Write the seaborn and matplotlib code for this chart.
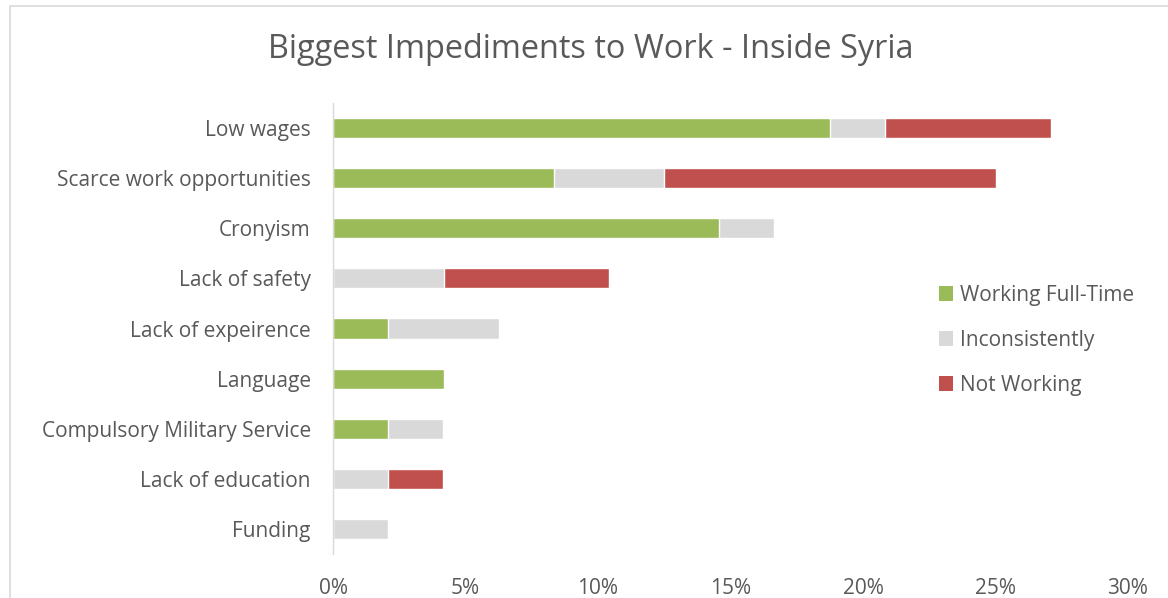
import matplotlib
matplotlib.use("Agg")
import matplotlib.pyplot as plt
from matplotlib.patches import Rectangle
from matplotlib.ticker import FuncFormatter
import pandas as pd
import seaborn as sns

categories = [
    "Low wages",
    "Scarce work opportunities",
    "Cronyism",
    "Lack of safety",
    "Lack of expeirence",
    "Language",
    "Compulsory Military Service",
    "Lack of education",
    "Funding",
]
full_time = [18.75, 8.33, 14.58, 0.0, 2.08, 4.17, 2.08, 0.0, 0.0]
inconsistently = [2.08, 4.17, 2.08, 4.17, 4.17, 0.0, 2.08, 2.08, 2.08]
not_working = [6.25, 12.50, 0.0, 6.25, 0.0, 0.0, 0.0, 2.08, 0.0]
series_names = ["Working Full-Time", "Inconsistently", "Not Working"]
series_colors = ["#9BBB59", "#D9D9D9", "#C0504D"]
x_ticks = [0, 5, 10, 15, 20, 25, 30]

df = pd.DataFrame({
    "category": categories,
    "full": full_time,
    "inc": inconsistently,
    "notw": not_working,
})
df["c1"] = df["full"]
df["c2"] = df["c1"] + df["inc"]
df["c3"] = df["c2"] + df["notw"]

sns.set_theme(style="white")
plt.rcParams["font.family"] = ["Open Sans", "DejaVu Sans"]
text_color = "#595959"

fig = plt.figure(figsize=(11.68, 5.98), dpi=100)
W, H = 1168, 598
ax = fig.add_axes([333 / W, 1 - 554 / H, (1128 - 333) / W, (554 - 103) / H])

# stacked bars: draw cumulative totals from the outermost segment inward
for col, color in zip(["c3", "c2", "c1"], series_colors[::-1]):
    sns.barplot(data=df, x=col, y="category", orient="h", color=color,
                width=0.4, saturation=1, ax=ax, order=categories)

ax.set_xlim(0, 30)
ax.set_ylim(8.5, -0.5)
ax.set_xticks(x_ticks)
ax.xaxis.set_major_formatter(FuncFormatter(lambda v, p: f"{v:.0f}%"))
ax.set_xlabel("")
ax.set_ylabel("")
ax.tick_params(axis="both", length=0, labelsize=15, colors=text_color)
ax.tick_params(axis="x", pad=17)
ax.tick_params(axis="y", pad=16)
for s in ["top", "right", "bottom"]:
    ax.spines[s].set_visible(False)
ax.spines["left"].set_color("#D9D9D9")
ax.spines["left"].set_linewidth(1.0)
ax.grid(False)

handles = [Rectangle((0, 0), 1, 1, facecolor=c, edgecolor="none") for c in series_colors]
fig.legend(handles, series_names, loc="upper left",
           bbox_to_anchor=(920 / W, 1 - 266 / H), frameon=False,
           fontsize=15, labelcolor=text_color, handlelength=0.7,
           handleheight=0.7, handletextpad=0.3, labelspacing=1.15)

fig.text(591 / W, 1 - 50 / H, "Biggest Impediments to Work - Inside Syria",
         ha="center", va="center", fontsize=23.4, color=text_color)

# chart area frame
fig.patches.append(Rectangle((10 / W, -0.1), 1.2, 1 - 6 / H + 0.1,
                             transform=fig.transFigure, facecolor="none",
                             edgecolor="#D9D9D9", linewidth=1.2))

fig.savefig("out.png", dpi=100, facecolor="white")
